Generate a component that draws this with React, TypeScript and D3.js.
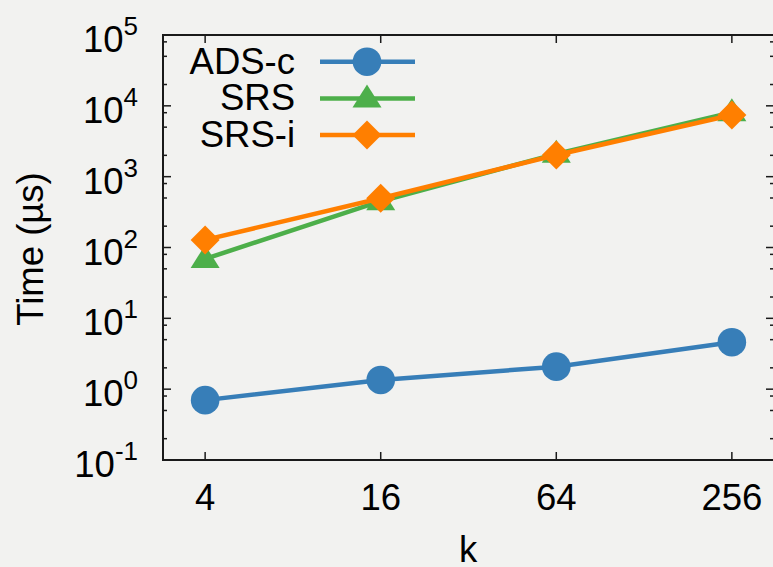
import React from "react";
import { scaleLog, scalePoint, line } from "d3";

// data
const kLabels = ["4", "16", "64", "256"];
const adsC = [0.7, 1.35, 2.08, 4.6];
const srs = [69, 450, 2100, 8100];
const srsI = [128, 496, 2025, 7430];
const seriesNames = ["ADS-c", "SRS", "SRS-i"];
const decadeExps = [-1, 0, 1, 2, 3, 4, 5];
const minorMults = [2, 5, 8];

const width = 773;
const height = 567;
const margin = { top: 35, right: -1, bottom: 107, left: 163 };
const font = "'Liberation Sans', Arial, Helvetica, sans-serif";
const fs = 36.5;

const colors = ["#377eb8", "#4daf4a", "#ff7f00"];

function Marker({ kind, x, y, color }: { kind: number; x: number; y: number; color: string }) {
  if (kind === 0) return <circle cx={x} cy={y} r={14.3} fill={color} />;
  if (kind === 1)
    return (
      <path
        d={`M${x},${y - 14} L${x + 14.5},${y + 9} L${x - 14.5},${y + 9} Z`}
        fill={color}
      />
    );
  return (
    <path
      d={`M${x},${y - 14.5} L${x + 14.5},${y} L${x},${y + 14.5} L${x - 14.5},${y} Z`}
      fill={color}
    />
  );
}

export default function App() {
  const x0 = margin.left;
  const x1 = width - margin.right;
  const y0 = height - margin.bottom;
  const y1 = margin.top;

  const xScale = scalePoint<string>().domain(kLabels).range([x0, x1]).padding(0.24);
  const yScale = scaleLog().domain([0.1, 1e5]).range([y0, y1]);

  const allSeries = [adsC, srs, srsI];
  const lineGen = line<number>()
    .x((_, i) => xScale(kLabels[i]) as number)
    .y((d) => yScale(d));

  const minorVals: number[] = [];
  decadeExps.forEach((e) => {
    minorMults.forEach((m) => {
      const v = m * Math.pow(10, e);
      if (v < 1e5) minorVals.push(v);
    });
  });

  const axisColor = "#1a1a1a";

  return (
    <svg
      width={width}
      height={height}
      style={{ position: "absolute", left: 0, top: 0, background: "#f2f2f0" }}
      fontFamily={font}
    >
      <rect x={0} y={0} width={width} height={height} fill="#f2f2f0" />

      {/* y ticks, both sides */}
      {decadeExps.map((e) => {
        const y = yScale(Math.pow(10, e));
        return (
          <g key={"M" + e}>
            <line x1={x0} x2={x0 + 8} y1={y} y2={y} stroke={axisColor} strokeWidth={1.5} />
            <line x1={x1} x2={x1 - 8} y1={y} y2={y} stroke={axisColor} strokeWidth={1.5} />
            <text x={138} y={y + 17} fontSize={fs} textAnchor="end" fill="#000">
              10
              <tspan fontSize={26} dy={-17}>
                {e}
              </tspan>
            </text>
          </g>
        );
      })}
      {minorVals.map((v) => {
        const y = yScale(v);
        return (
          <g key={"m" + v}>
            <line x1={x0} x2={x0 + 4} y1={y} y2={y} stroke={axisColor} strokeWidth={1.5} />
            <line x1={x1} x2={x1 - 4} y1={y} y2={y} stroke={axisColor} strokeWidth={1.5} />
          </g>
        );
      })}

      {/* x ticks, top and bottom */}
      {kLabels.map((k) => {
        const x = xScale(k) as number;
        return (
          <g key={"x" + k}>
            <line x1={x} x2={x} y1={y0} y2={y0 - 8} stroke={axisColor} strokeWidth={1.5} />
            <line x1={x} x2={x} y1={y1} y2={y1 + 8} stroke={axisColor} strokeWidth={1.5} />
            <text x={x} y={510} fontSize={fs} textAnchor="middle" fill="#000">
              {k}
            </text>
          </g>
        );
      })}

      {/* frame */}
      <rect
        x={x0}
        y={y1}
        width={x1 - x0}
        height={y0 - y1}
        fill="none"
        stroke={axisColor}
        strokeWidth={2}
      />

      {/* axis titles */}
      <text x={468} y={562} fontSize={fs} textAnchor="middle" fill="#000">
        k
      </text>
      <text
        transform="translate(43,249) rotate(-90)"
        fontSize={fs}
        textAnchor="middle"
        fill="#000"
      >
        Time (µs)
      </text>

      {/* series */}
      {allSeries.map((s, si) => (
        <g key={"s" + si}>
          <path d={lineGen(s) ?? ""} fill="none" stroke={colors[si]} strokeWidth={4.5} />
          {s.map((v, i) => (
            <Marker
              key={i}
              kind={si}
              x={xScale(kLabels[i]) as number}
              y={yScale(v)}
              color={colors[si]}
            />
          ))}
        </g>
      ))}

      {/* legend */}
      {seriesNames.map((name, i) => {
        const cy = 61.7 + i * 36.7;
        return (
          <g key={"l" + name}>
            <text x={295} y={cy + 12} fontSize={fs} textAnchor="end" fill="#000">
              {name}
            </text>
            <line x1={320} x2={415} y1={cy} y2={cy} stroke={colors[i]} strokeWidth={4.5} />
            <Marker kind={i} x={367} y={cy} color={colors[i]} />
          </g>
        );
      })}
    </svg>
  );
}
